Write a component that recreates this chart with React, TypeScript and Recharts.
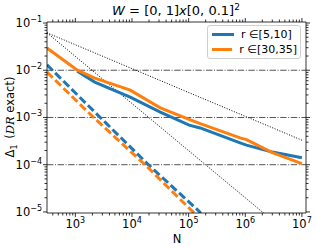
import React from 'react';
import { LineChart, Line, XAxis, YAxis, ReferenceLine, Legend } from 'recharts';

const FONT = 'DejaVu Sans, sans-serif';
const BLUE = '#1f77b4';
const ORANGE = '#ff7f0e';

// values (N, Delta_1)
const blueSolidN = [1085, 2200, 9300, 31600, 102000, 160000, 810000, 1050000, 3000000, 10000000];
const blueSolidV = [9.5e-3, 5.6e-3, 2.7e-3, 1.3e-3, 6.9e-4, 6.0e-4, 2.9e-4, 2.6e-4, 1.85e-4, 1.4e-4];
const orangeSolidN = [316, 1085, 2200, 9300, 31600, 102000, 160000, 810000, 1050000, 3000000, 10000000];
const orangeSolidV = [2.95e-2, 1.0e-2, 6.8e-3, 3.8e-3, 1.6e-3, 9.1e-4, 7.4e-4, 3.7e-4, 3.4e-4, 1.8e-4, 1.05e-4];
const blueDashN = [316, 2750, 19500, 165000];
const blueDashV = [1.3e-2, 1e-3, 1e-4, 9.5e-6];
const orangeDashN = [316, 2100, 17000, 125000];
const orangeDashV = [9.1e-3, 1e-3, 1e-4, 9.5e-6];
const slopeHalfN = [316, 10000000];
const slopeHalfV = [6.2e-2, 3.3e-4];
const slopeOneN = [316, 2100000];
const slopeOneV = [6.2e-2, 9.5e-6];
const hLines = [1e-2, 1e-3, 1e-4];

const xMajor = [1e3, 1e4, 1e5, 1e6, 1e7];
const yMajor = [1e-5, 1e-4, 1e-3, 1e-2, 1e-1];
const X_DOMAIN = [316, 1.18e7];
const Y_DOMAIN = [9.5e-6, 0.105];

const legendItems = [
  { label: 'r ∈[5,10]', color: BLUE },
  { label: 'r ∈[30,35]', color: ORANGE },
];

// log minor ticks (2..9 x 10^k) inside the domain
const withMinor = (majors: number[], lo: number, hi: number) => {
  const out: number[] = [];
  const first = majors[0] / 10;
  [first, ...majors].forEach((m) => {
    for (let k = 1; k <= 9; k++) {
      const v = m * k;
      if (v >= lo && v <= hi) out.push(v);
    }
  });
  return out;
};
const xTicks = withMinor(xMajor, X_DOMAIN[0], X_DOMAIN[1]);
const yTicks = withMinor(yMajor, Y_DOMAIN[0], Y_DOMAIN[1]);

const pts = (n: number[], v: number[]) => n.map((x, i) => ({ n: x, v: v[i] }));

const isMajor = (v: number) => Math.abs(Math.log10(v) - Math.round(Math.log10(v))) < 1e-6;
const expo = (v: number) => {
  const e = Math.round(Math.log10(v));
  return e < 0 ? '\u2212' + Math.abs(e) : String(e);
};

const BottomTick = (props: any) => {
  const { x, y, payload } = props;
  const major = isMajor(payload.value);
  return (
    <g>
      <line x1={x} x2={x} y1={y} y2={y + (major ? 4 : 2.5)} stroke="#000" strokeWidth={0.8} />
      {major && (
        <text x={x} y={y + 15} textAnchor="middle" fontFamily={FONT} fontSize={11.5} fill="#000">
          10<tspan dy={-5} fontSize={8}>{expo(payload.value)}</tspan>
        </text>
      )}
    </g>
  );
};

const TopTick = (props: any) => {
  const { x, y, payload } = props;
  const major = isMajor(payload.value);
  return <line x1={x} x2={x} y1={y} y2={y - (major ? 4 : 2.5)} stroke="#000" strokeWidth={0.8} />;
};

const LeftTick = (props: any) => {
  const { x, y, payload } = props;
  const major = isMajor(payload.value);
  return (
    <g>
      <line x1={x} x2={x - (major ? 4 : 2.5)} y1={y} y2={y} stroke="#000" strokeWidth={0.8} />
      {major && (
        <text x={x - 5} y={y + 4} textAnchor="end" fontFamily={FONT} fontSize={11.5} fill="#000">
          10<tspan dy={-5} fontSize={8}>{expo(payload.value)}</tspan>
        </text>
      )}
    </g>
  );
};

const RightTick = (props: any) => {
  const { x, y, payload } = props;
  const major = isMajor(payload.value);
  return <line x1={x} x2={x + (major ? 4 : 2.5)} y1={y} y2={y} stroke="#000" strokeWidth={0.8} />;
};

const YLabel = () => (
  <text transform="translate(14,117) rotate(-90)" textAnchor="middle" fontFamily={FONT} fontSize={11.5} fill="#000">
    Δ<tspan dy={3} fontSize={8}>1</tspan>
    <tspan dy={-3}>{'\u2002('}</tspan>
    <tspan fontFamily="DejaVu Serif, serif" fontStyle="italic">DR</tspan>
    <tspan> exact)</tspan>
  </text>
);

const XLabel = () => (
  <text x={177} y={243} textAnchor="middle" fontFamily={FONT} fontSize={11.5} fill="#000">N</text>
);

const Title = () => (
  <text x={176} y={15} textAnchor="middle" fontFamily={FONT} fontSize={13} fill="#000">
    <tspan fontStyle="italic">W</tspan>
    <tspan>{' = [0, 1]'}</tspan>
    <tspan fontStyle="italic">x</tspan>
    <tspan>[0, 0.1]</tspan>
    <tspan dy={-5} fontSize={9}>2</tspan>
  </text>
);

const LegendBox = () => (
  <div
    style={{
      width: 94,
      boxSizing: 'border-box',
      background: 'rgba(255,255,255,0.8)',
      border: '1px solid #d0d0d0',
      borderRadius: 3,
      padding: '1px 3px 1px 4px',
      fontFamily: FONT,
      fontSize: 11,
      lineHeight: '15px',
      whiteSpace: 'nowrap',
    }}
  >
    {legendItems.map((it) => (
      <div key={it.label} style={{ display: 'flex', alignItems: 'center' }}>
        <span style={{ display: 'inline-block', width: 22, height: 3, background: it.color, marginRight: 7 }} />
        <span>{it.label}</span>
      </div>
    ))}
  </div>
);

export default function App() {
  return (
    <div style={{ position: 'absolute', left: 0, top: 0, width: 316, height: 247, background: '#fff' }}>
      <LineChart width={316} height={247} margin={{ top: 0, right: 0, bottom: 0, left: 0 }}>
        <XAxis
          xAxisId={0}
          type="number"
          dataKey="n"
          scale="log"
          domain={X_DOMAIN}
          allowDataOverflow
          ticks={xTicks}
          interval={0}
          tick={<BottomTick />}
          tickLine={false}
          tickSize={0}
          tickMargin={0}
          height={34}
          axisLine={{ stroke: '#000', strokeWidth: 0.8 }}
          label={<XLabel />}
        />
        <XAxis
          xAxisId="top"
          orientation="top"
          type="number"
          dataKey="n"
          scale="log"
          domain={X_DOMAIN}
          allowDataOverflow
          ticks={xTicks}
          interval={0}
          tick={<TopTick />}
          tickLine={false}
          tickSize={0}
          tickMargin={0}
          height={22}
          axisLine={{ stroke: '#000', strokeWidth: 0.8 }}
          label={<Title />}
        />
        <YAxis
          yAxisId={0}
          type="number"
          scale="log"
          domain={Y_DOMAIN}
          allowDataOverflow
          ticks={yTicks}
          interval={0}
          tick={<LeftTick />}
          tickLine={false}
          tickSize={0}
          tickMargin={0}
          width={47}
          axisLine={{ stroke: '#000', strokeWidth: 0.8 }}
          label={<YLabel />}
        />
        <YAxis
          yAxisId="right"
          orientation="right"
          type="number"
          scale="log"
          domain={Y_DOMAIN}
          allowDataOverflow
          ticks={yTicks}
          interval={0}
          tick={<RightTick />}
          tickLine={false}
          tickSize={0}
          tickMargin={0}
          width={10}
          axisLine={{ stroke: '#000', strokeWidth: 0.8 }}
        />
        {hLines.map((v) => (
          <ReferenceLine key={v} y={v} stroke="#555" strokeWidth={1} strokeDasharray="6.4 1.6 1 1.6" />
        ))}
        <Line data={pts(slopeHalfN, slopeHalfV)} dataKey="v" stroke="#000" strokeWidth={1} strokeDasharray="1 1.6" dot={false} isAnimationActive={false} legendType="none" />
        <Line data={pts(slopeOneN, slopeOneV)} dataKey="v" stroke="#000" strokeWidth={1} strokeDasharray="1 1.6" dot={false} isAnimationActive={false} legendType="none" />
        <Line data={pts(blueSolidN, blueSolidV)} dataKey="v" stroke={BLUE} strokeWidth={3} dot={false} isAnimationActive={false} />
        <Line data={pts(orangeSolidN, orangeSolidV)} dataKey="v" stroke={ORANGE} strokeWidth={3} dot={false} isAnimationActive={false} />
        <Line data={pts(blueDashN, blueDashV)} dataKey="v" stroke={BLUE} strokeWidth={3} strokeDasharray="8 3.5" dot={false} isAnimationActive={false} legendType="none" />
        <Line data={pts(orangeDashN, orangeDashV)} dataKey="v" stroke={ORANGE} strokeWidth={3} strokeDasharray="8 3.5" dot={false} isAnimationActive={false} legendType="none" />
        <Legend
          layout="horizontal"
          verticalAlign="middle"
          align="center"
          content={<LegendBox />}
          wrapperStyle={{ position: 'absolute', left: 207, top: 25, width: 'auto' }}
        />
      </LineChart>
    </div>
  );
}
